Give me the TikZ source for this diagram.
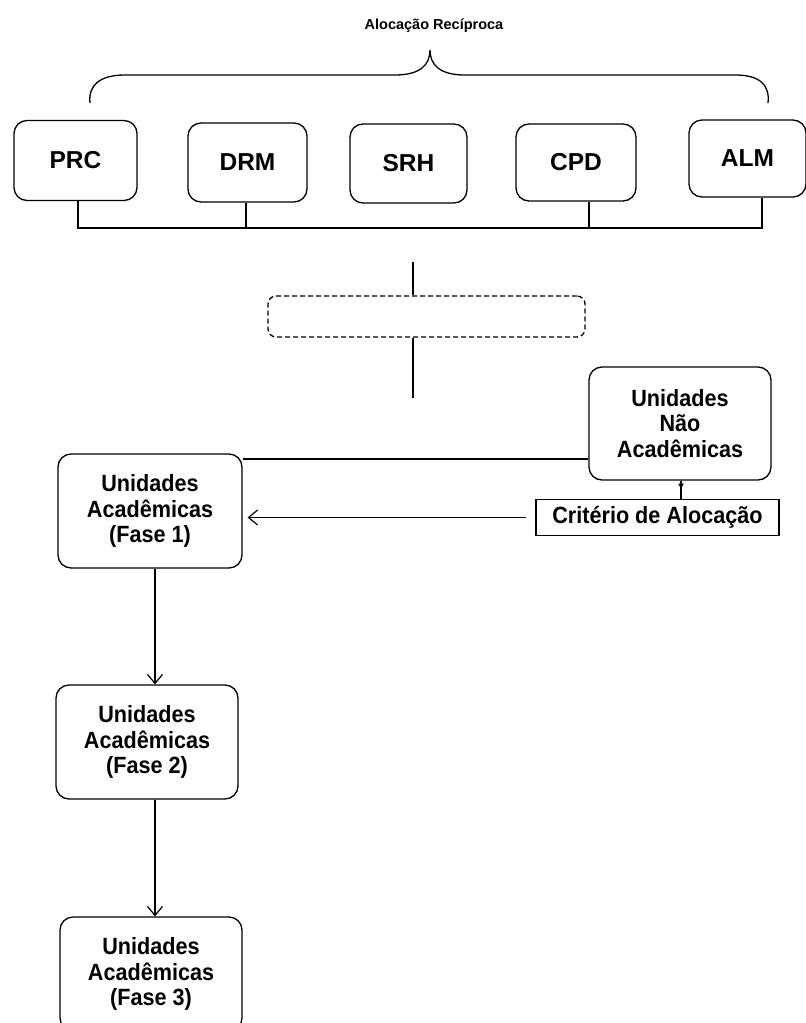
\documentclass[tikz,border=0pt]{standalone}
\usepackage{fontspec}
\setmainfont{Liberation Sans}
\newfontfamily\condfont{Liberation Sans}[FakeStretch=0.92]
\usetikzlibrary{arrows.meta,calc}
\begin{document}
\begin{tikzpicture}[x=1pt,y=-1pt,
  lw/.style={line width=1.3pt},
  box/.style={draw, lw, rounded corners=13pt, align=center, inner sep=0pt,
    font=\condfont\bfseries\fontsize{23.5}{25.5}\selectfont},
  topbox/.style={box, font=\bfseries\fontsize{24.5}{26}\selectfont},
  conn/.style={lw},
  arr/.style={lw, -{Straight Barb[length=9pt,width=15pt,line width=1.2pt]}}
]
\useasboundingbox (0,0) rectangle (806,1023);
\clip (0,0) rectangle (806,1023);
% title and brace
\node[font=\bfseries\fontsize{14.5}{16}\selectfont] (title) at (434,26) {Alocação Recíproca};
\draw[conn] (90,103) .. controls (88,85) and (100,75) .. (125,75) -- (395,75)
  .. controls (420,75) and (430,65) .. (430,50)
  .. controls (430,65) and (440,75) .. (465,75) -- (735,75)
  .. controls (760,75) and (770,85) .. (768,103);
% top boxes
\node[topbox, minimum width=123pt, minimum height=80pt] (prc) at (75.5,160.5) {PRC};
\node[topbox, minimum width=119pt, minimum height=79pt] (drm) at (247.5,162.5) {DRM};
\node[topbox, minimum width=117pt, minimum height=79pt] (srh) at (408.5,163.5) {SRH};
\node[topbox, minimum width=120pt, minimum height=77pt] (cpd) at (576,162.5) {CPD};
\node[topbox, minimum width=117pt, minimum height=77pt] (alm) at (747.5,158.5) {ALM};
% bus
\coordinate (busy) at (0,228);
\coordinate (xprc) at (78,0);
\coordinate (xdrm) at (246,0);
\coordinate (xcpd) at (589,0);
\coordinate (xalm) at (762,0);
\draw[conn] (prc.south -| xprc) -- (xprc |- busy) -- (xalm |- busy) -- (alm.south -| xalm);
\draw[conn] (drm.south -| xdrm) -- (xdrm |- busy);
\draw[conn] (cpd.south -| xcpd) -- (xcpd |- busy);
% dashed box
\node[draw, lw, dashed, dash pattern=on 5pt off 3pt, rounded corners=8pt, minimum width=317pt, minimum height=41pt] (dash) at (426.5,316.5) {};
\coordinate (lx) at (413,0);
\coordinate (ltop) at (413,262);
\coordinate (lbot) at (413,398);
\draw[conn] (ltop) -- (dash.north -| lx);
\draw[conn] (dash.south -| lx) -- (lbot);
% lower boxes
\node[box, minimum width=182pt, minimum height=113pt] (una) at (680,423.5) {Unidades\\Não\\Acadêmicas};
\node[box, minimum width=184pt, minimum height=114pt] (f1) at (150,511) {Unidades\\Acadêmicas\\(Fase 1)};
\node[box, minimum width=182pt, minimum height=114pt] (f2) at (147,742) {Unidades\\Acadêmicas\\(Fase 2)};
\node[box, minimum width=182pt, minimum height=114pt] (f3) at (151,974) {Unidades\\Acadêmicas\\(Fase 3)};
\node[draw, lw, font=\condfont\bfseries\fontsize{23.5}{25}\selectfont, minimum width=243pt, minimum height=36pt, inner sep=0pt] (crit) at (657.5,517.5) {Critério de Alocação};
% connectors
\coordinate (hy) at (0,459);
\draw[conn] (una.west |- hy) -- (f1.east |- hy);
\coordinate (ux) at (681,0);
\draw[conn] (una.south -| ux) -- (crit.north -| ux);
\draw[lw, -{Latex[length=6pt,width=6pt]}] (una.south -| ux) -- ++(0,9);
\draw[arr, shorten <=9pt, shorten >=5pt] (crit.west) -- (crit.west -| f1.east);
\coordinate (ax) at (155,0);
\draw[arr] (f1.south -| ax) -- (f2.north -| ax);
\draw[arr] (f2.south -| ax) -- (f3.north -| ax);
\end{tikzpicture}
\end{document}
